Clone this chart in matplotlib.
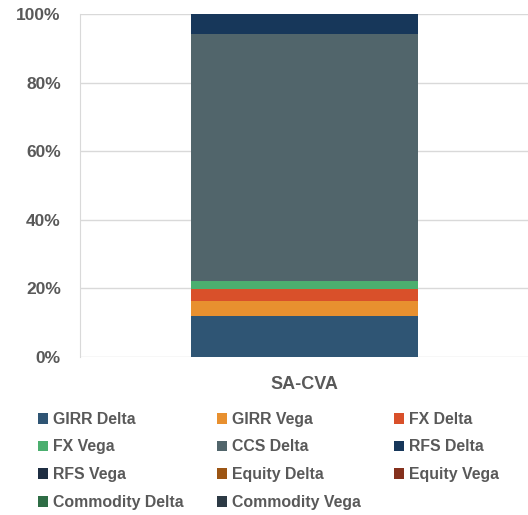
import matplotlib.pyplot as plt
import matplotlib.ticker as ticker
from matplotlib.patches import Patch

plt.rcParams['font.family'] = ['Liberation Sans', 'DejaVu Sans']

category = ["SA-CVA"]
series = ["GIRR Delta", "GIRR Vega", "FX Delta", "FX Vega", "CCS Delta", "RFS Delta",
          "RFS Vega", "Equity Delta", "Equity Vega", "Commodity Delta", "Commodity Vega"]
shares = [12.0, 4.3, 3.5, 2.2, 72.2, 5.8, 0.0, 0.0, 0.0, 0.0, 0.0]
colors = ["#2F5574", "#E8902F", "#D9502A", "#4BAF6F", "#51656B", "#17375A",
          "#1E2E42", "#9C5514", "#85311D", "#2E6D45", "#2D3A45"]
yticks = [0, 20, 40, 60, 80, 100]

txt = "#595959"

fig = plt.figure(figsize=(5.28, 5.15), dpi=100)
ax = fig.add_axes([0.152, 0.307, 0.848, 0.666])

bottom = 0
for name, val, c in zip(series, shares, colors):
    ax.bar(category, val, bottom=bottom, width=0.507, color=c, linewidth=0, zorder=3)
    bottom += val

ax.set_xlim(-0.5, 0.5)
ax.set_ylim(0, 100)
ax.set_yticks(yticks)
ax.yaxis.set_major_formatter(ticker.FuncFormatter(lambda v, p: f"{int(v)}%"))
ax.grid(axis='y', color="#D9D9D9", linewidth=1, zorder=0)
for s in ["top", "right", "bottom"]:
    ax.spines[s].set_visible(False)
ax.spines["left"].set_color("#D9D9D9")
ax.tick_params(axis='y', length=0, labelsize=12.5, labelcolor=txt, pad=14)
ax.tick_params(axis='x', length=0, labelsize=13, labelcolor=txt, pad=14)
for lab in ax.get_yticklabels() + ax.get_xticklabels():
    lab.set_fontweight('bold')

# legend, row-wise order with 3 columns
order = [0, 3, 6, 9, 1, 4, 7, 10, 2, 5, 8]
handles = [Patch(facecolor=colors[i], edgecolor='none') for i in order]
labels = [series[i] for i in order]
leg = fig.legend(handles, labels, ncol=3, loc='upper left', bbox_to_anchor=(0.045, 0.228),
                 frameon=False, handlelength=0.65, handleheight=0.65, handletextpad=0.3,
                 columnspacing=2.1, labelspacing=0.8, prop={'size': 11.4, 'weight': 'bold'})
for t in leg.get_texts():
    t.set_color(txt)

fig.savefig("out.png", dpi=100)
